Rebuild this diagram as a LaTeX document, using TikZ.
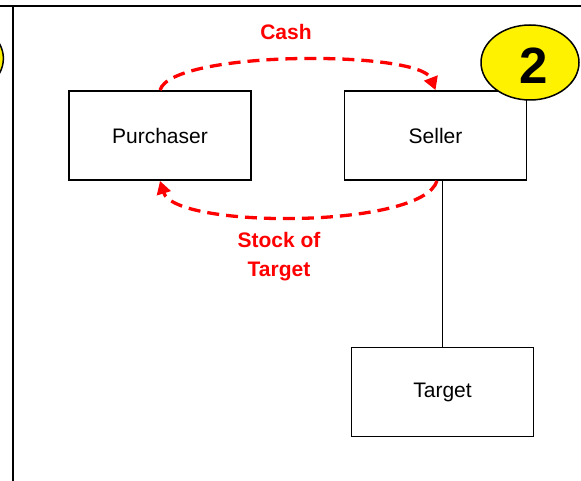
\documentclass[tikz,border=0pt]{standalone}
\usepackage{fontspec}
\setmainfont{Liberation Sans}
\usetikzlibrary{arrows.meta,shapes.geometric}
\begin{document}
\begin{tikzpicture}[x=1pt,y=-1pt,
  entity/.style={draw=black,line width=1.8pt,minimum width=182pt,minimum height=89pt,inner sep=0pt,font=\fontsize{21}{25}\selectfont},
  flow/.style={draw=red,line width=3.3pt,dash pattern=on 12pt off 7pt,-{Triangle[length=13pt,width=14pt]}},
  flowlabel/.style={text=red,font=\bfseries\fontsize{21}{29}\selectfont,align=center},
  badge/.style={ellipse,draw=black,line width=1.5pt,fill=yellow,minimum width=98pt,minimum height=75pt,inner sep=0pt},
  frame/.style={line width=2.4pt,draw=black}]
\useasboundingbox (0,0) rectangle (581,481);
\node[entity] (p) at (160,135.5) {Purchaser};
\node[entity] (s) at (435.5,135.5) {Seller};
\node[entity] (t) at (442.5,392) {Target};
\draw[line width=1.8pt] (t.north) -- (t.north |- s.south);
\draw[flow] (p.north) .. controls (172,50) and (420,50) .. (s.north);
\draw[flow] ([xshift=1.5pt]s.south) .. controls (422,229) and (175,229) .. (p.south);
\node[flowlabel] (cash) at (286,32) {Cash};
\node[flowlabel] (stock) at (279,257) {Stock of\\Target};
\begin{scope}
\clip (0,0) rectangle (581,481);
\node[badge] (b1) at (-45.6,58.5) {};
\node[badge] (b2) at (530,62.5) {};
\node[font=\bfseries\fontsize{51}{51}\selectfont] (n2) at (534,66) {2};
\draw[frame] (-5,6) -- (590,6);
\draw[frame] (13,6) -- (13,490);
\end{scope}
\end{tikzpicture}
\end{document}
